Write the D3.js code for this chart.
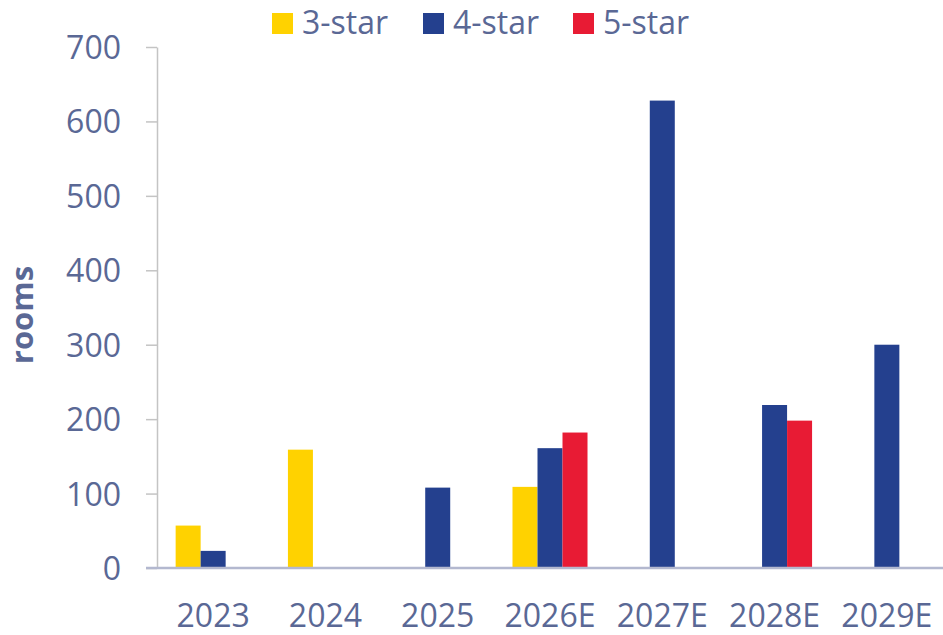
<!DOCTYPE html>
<html>
<head>
<meta charset="utf-8">
<script src="https://cdn.jsdelivr.net/npm/d3@7"></script>
<style>
  html, body { margin: 0; padding: 0; background: #ffffff; }
  svg { display: block; }
  svg text { font-family: "Open Sans", "Noto Sans", sans-serif; }
</style>
</head>
<body>
<svg id="chart" width="943" height="635"></svg>
<script>
// Hotel room pipeline by star rating
const categories = ["2023", "2024", "2025", "2026E", "2027E", "2028E", "2029E"];
const seriesNames = ["3-star", "4-star", "5-star"];
const seriesColors = ["#FFD200", "#24408E", "#E81B34"];
const threeStar = [57, 159, null, 109, null, null, null];
const fourStar  = [23, null, 108, 161, 628, 219, 300];
const fiveStar  = [null, null, null, 182, null, 198, null];
const yTicks = [0, 100, 200, 300, 400, 500, 600, 700];
const yLabel = "rooms";

const seriesValues = [threeStar, fourStar, fiveStar];
const textColor = "#5a6895";

const svg = d3.select("#chart");
const margin = { left: 157, right: 943, top: 47, bottom: 568 };

const x0 = d3.scaleBand()
  .domain(categories)
  .range([margin.left, margin.right])
  .paddingInner(0.332)
  .paddingOuter(0.166);

const x1 = d3.scaleBand()
  .domain(seriesNames)
  .range([0, x0.bandwidth()]);

const y = d3.scaleLinear()
  .domain([0, 700])
  .range([margin.bottom, margin.top]);

const color = d3.scaleOrdinal().domain(seriesNames).range(seriesColors);

// Y axis
const yAxis = svg.append("g")
  .attr("transform", `translate(${margin.left},0)`)
  .call(d3.axisLeft(y).tickValues(yTicks).tickSize(11).tickPadding(25).tickSizeOuter(0))
  .attr("font-family", null)
  .attr("font-size", null);
yAxis.select(".domain").attr("stroke", "#c4c4c4").attr("stroke-width", 1.5);
yAxis.selectAll(".tick line").attr("stroke", "#c4c4c4").attr("stroke-width", 1.5);
yAxis.selectAll(".tick text")
  .attr("fill", textColor)
  .style("font-size", "32px")
  .attr("dy", "0.36em");

// Bars
const groups = svg.append("g")
  .selectAll("g")
  .data(categories)
  .join("g")
  .attr("transform", d => `translate(${x0(d)},0)`);

groups.selectAll("rect")
  .data((d, i) => seriesNames.map((s, j) => ({ series: s, value: seriesValues[j][i] })))
  .join("rect")
  .filter(d => d.value != null)
  .attr("x", d => x1(d.series))
  .attr("width", x1.bandwidth())
  .attr("y", d => y(d.value))
  .attr("height", d => y(0) - y(d.value))
  .attr("fill", d => color(d.series));

// X axis baseline and labels
const xAxis = svg.append("g")
  .attr("transform", `translate(0,${margin.bottom})`)
  .call(d3.axisBottom(x0).tickSize(0).tickPadding(36))
  .attr("font-family", null)
  .attr("font-size", null);
xAxis.select(".domain")
  .attr("d", `M146,0H${margin.right}`)
  .attr("stroke", "#b3b8cf")
  .attr("stroke-width", 2.5);
xAxis.selectAll(".tick text")
  .attr("fill", textColor)
  .style("font-size", "32px");

// Axis title
svg.append("text")
  .attr("transform", "translate(33,315) rotate(-90)")
  .attr("text-anchor", "middle")
  .attr("fill", textColor)
  .style("font-size", "31px")
  .style("font-weight", "bold")
  .text(yLabel);

// Legend
const legendX = [272, 423, 573];
const legend = svg.append("g")
  .selectAll("g")
  .data(seriesNames)
  .join("g")
  .attr("transform", (d, i) => `translate(${legendX[i]},13)`);
legend.append("rect")
  .attr("width", 21)
  .attr("height", 21)
  .attr("fill", d => color(d));
legend.append("text")
  .attr("x", 30)
  .attr("y", 21)
  .attr("fill", textColor)
  .style("font-size", "32px")
  .text(d => d);
</script>
</body>
</html>
